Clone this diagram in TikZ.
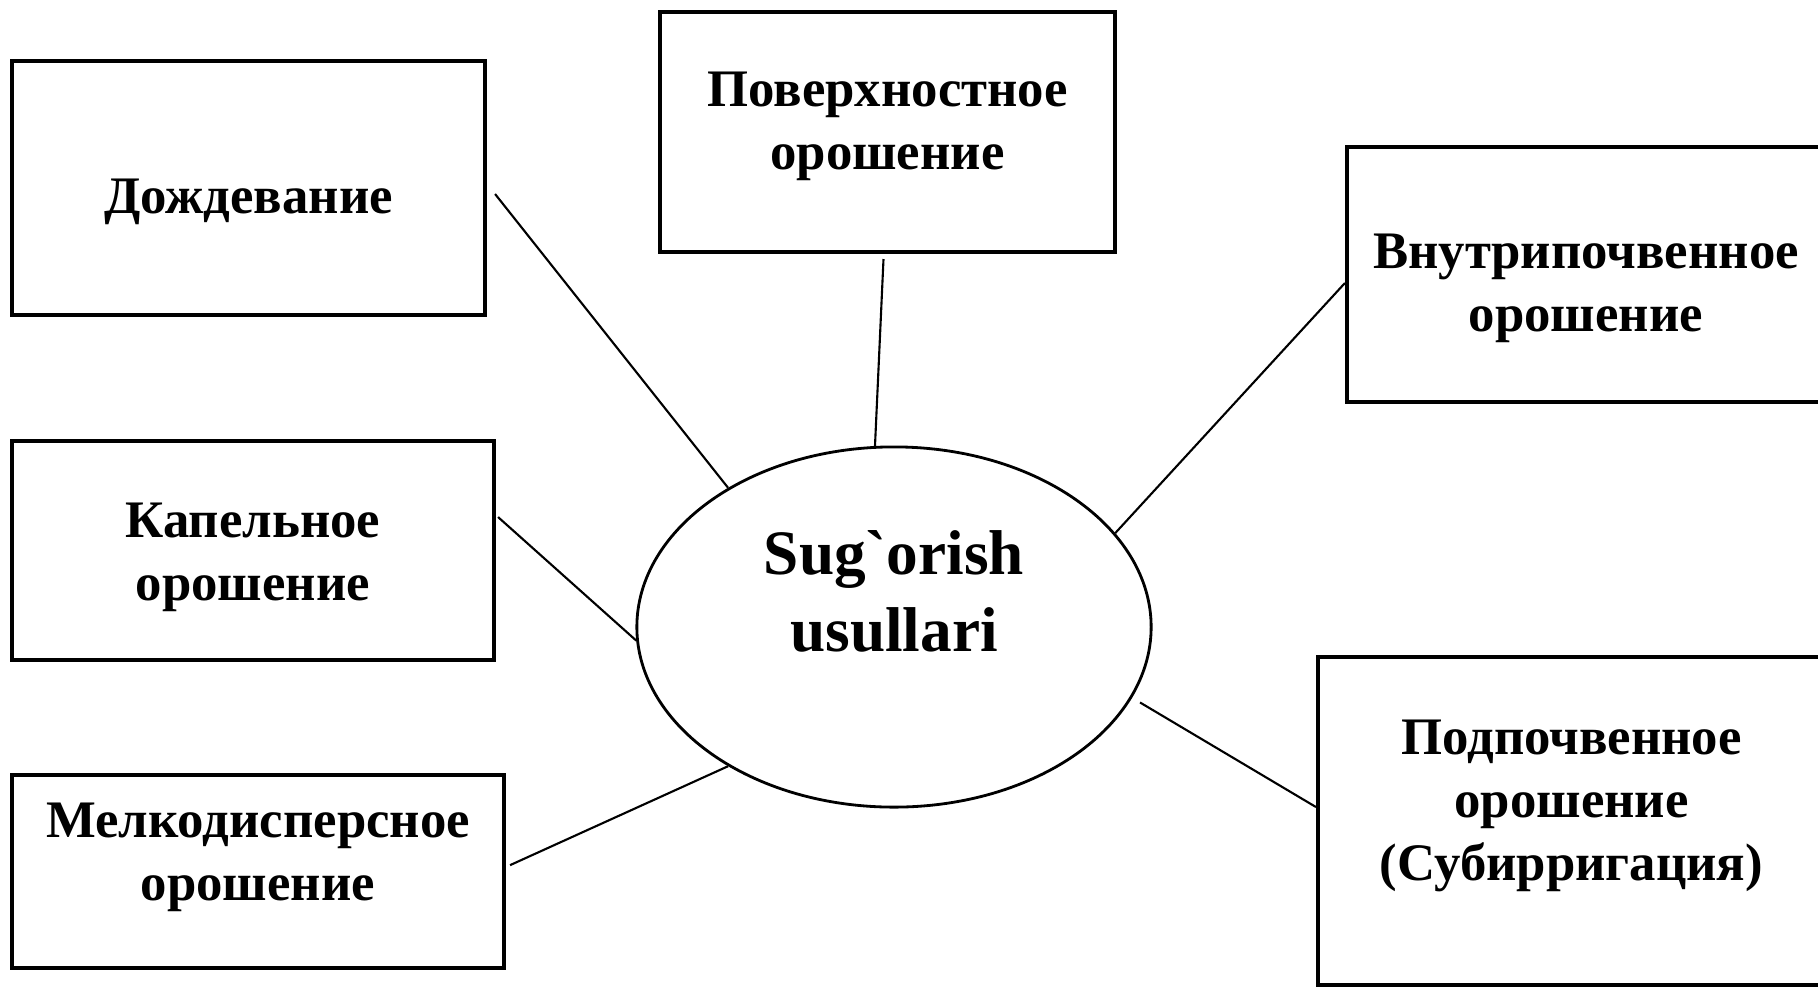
\documentclass[tikz,border=0pt]{standalone}
\usepackage{fontspec}
\setmainfont{Liberation Serif}[Ligatures=TeXOff]
\usetikzlibrary{shapes,positioning}

\begin{document}
\begin{tikzpicture}[x=0.01cm, y=-0.01cm,
	box/.style={rectangle, draw, line width=1.1pt},
	boxtext/.style={align=center, font=\fontsize{15}{18}\selectfont\bfseries},
	link/.style={line width=0.6pt}]
	\clip (0,0) rectangle (1818,987);
	
	\node[ellipse, draw, line width=0.8pt, minimum width=5.14cm, minimum height=3.6cm, label={[font=\fontsize{18}{22}\selectfont\bfseries, align=center, yshift=0.355cm]center:{Sug`orish\\usullari}}] (sug) at (894,627) {};
	
	\node[box, minimum width=4.73cm, minimum height=2.54cm, label={[boxtext, yshift=-0.14cm]center:{Дождевание}}] (dozh) at (248.5,188) {};
	\node[box, minimum width=4.82cm, minimum height=2.19cm, below=1.22cm of dozh, xshift=0.045cm, label={[boxtext, yshift=-0.07cm]center:{Капельное\\орошение}}] (kapel) {};
	\node[box, minimum width=4.92cm, minimum height=1.93cm, below=1.11cm of kapel, xshift=0.05cm, label={[boxtext, yshift=0.14cm]center:{Мелкодисперсное\\орошение}}] (melko) {};
	\node[box, minimum width=4.55cm, minimum height=2.4cm, label={[boxtext, yshift=0.06cm]center:{Поверхностное\\орошение}}] (pov) at (887.5,132) {};
	\node[box, minimum width=4.78cm, minimum height=2.55cm, label={[boxtext, yshift=-0.14cm]center:{Внутрипочвенное\\орошение}}] (vnutr) at (1586,274.5) {};
	\node[box, minimum width=5.07cm, minimum height=3.28cm, label={[boxtext, yshift=0.15cm]center:{Подпочвенное\\орошение\\(Субирригация)}}] (podp) at (1571.5,821) {};
	
	\draw[link] ([shift={(8,6)}]dozh.east) -- (sug.140);
	\draw[link] ([shift={(-4,5)}]pov.south) -- (sug.96);
	\draw[link] ([shift={(0,8.5)}]vnutr.west) -- (sug.23);
	\draw[link] ([shift={(2,-33.5)}]kapel.east) -- (sug.183);
	\draw[link] ([shift={(4,-6.5)}]melko.east) -- (sug.220);
	\draw[link] ([shift={(9,3)}]sug.-17) -- ([shift={(0,-14)}]podp.west);
\end{tikzpicture}
\end{document}
